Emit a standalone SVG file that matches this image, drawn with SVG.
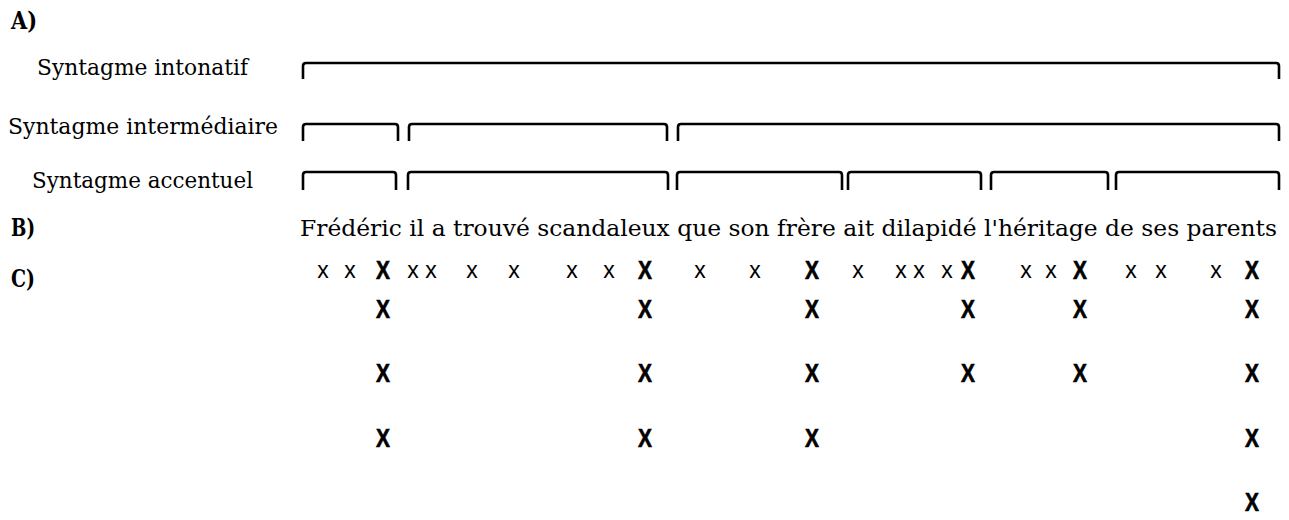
<svg xmlns="http://www.w3.org/2000/svg" width="1289" height="520" viewBox="0 0 1289 520">
<style>
.lbl{font-family:"DejaVu Serif","Liberation Serif",serif;font-size:23px;fill:#000}
.sec{font-family:"DejaVu Serif","Liberation Serif",serif;font-size:24px;font-weight:bold;fill:#000}
.br{fill:none;stroke:#000;stroke-width:2.6;stroke-linejoin:round}
.sx{font-family:"Liberation Sans",Arial,sans-serif;font-size:23px;fill:#000;text-anchor:middle}
.bx{font-family:"Liberation Sans",Arial,sans-serif;font-size:25px;font-weight:bold;fill:#000;text-anchor:middle;stroke:#000;stroke-width:0.6}
</style>
<rect width="1289" height="520" fill="#fff"/>
<g id="sections">
<text class="sec" x="11" y="29" textLength="26" lengthAdjust="spacingAndGlyphs">A)</text>
<text class="sec" x="11" y="236" textLength="24" lengthAdjust="spacingAndGlyphs">B)</text>
<text class="sec" x="11" y="287" textLength="24" lengthAdjust="spacingAndGlyphs">C)</text>
</g>
<g id="labels">
<text class="lbl" x="37" y="75" textLength="211" lengthAdjust="spacingAndGlyphs">Syntagme intonatif</text>
<text class="lbl" x="8" y="134" textLength="270" lengthAdjust="spacingAndGlyphs">Syntagme intermédiaire</text>
<text class="lbl" x="32" y="188" textLength="221" lengthAdjust="spacingAndGlyphs">Syntagme accentuel</text>
</g>
<g id="brackets-intonatif">
<path class="br" d="M303,79 V66 Q303,63 306,63 H1276 Q1279,63 1279,66 V79"/>
</g>
<g id="brackets-intermediaire">
<path class="br" d="M303,141 V127 Q303,124 306,124 H395 Q398,124 398,127 V141"/>
<path class="br" d="M409,141 V127 Q409,124 412,124 H664 Q667,124 667,127 V141"/>
<path class="br" d="M678,141 V127 Q678,124 681,124 H1276 Q1279,124 1279,127 V141"/>
</g>
<g id="brackets-accentuel">
<path class="br" d="M303,190 V175 Q303,172 306,172 H393 Q396,172 396,175 V190"/>
<path class="br" d="M408,190 V175 Q408,172 411,172 H665 Q668,172 668,175 V190"/>
<path class="br" d="M677,190 V175 Q677,172 680,172 H839 Q842,172 842,175 V190"/>
<path class="br" d="M848,190 V175 Q848,172 851,172 H978 Q981,172 981,175 V190"/>
<path class="br" d="M991,190 V175 Q991,172 994,172 H1105 Q1108,172 1108,175 V190"/>
<path class="br" d="M1116,190 V175 Q1116,172 1119,172 H1276 Q1279,172 1279,175 V190"/>
</g>
<g id="sentence">
<text class="lbl" x="300" y="236" textLength="977" lengthAdjust="spacingAndGlyphs">Frédéric il a trouvé scandaleux que son frère ait dilapidé l'héritage de ses parents</text>
</g>
<g id="grid-row1">
<text class="sx" x="323" y="278">x</text>
<text class="sx" x="350" y="278">x</text>
<text class="bx" x="383" y="279" textLength="14" lengthAdjust="spacingAndGlyphs">X</text>
<text class="sx" x="413" y="278">x</text>
<text class="sx" x="431" y="278">x</text>
<text class="sx" x="472" y="278">x</text>
<text class="sx" x="514" y="278">x</text>
<text class="sx" x="572" y="278">x</text>
<text class="sx" x="609" y="278">x</text>
<text class="bx" x="645" y="279" textLength="14" lengthAdjust="spacingAndGlyphs">X</text>
<text class="sx" x="700" y="278">x</text>
<text class="sx" x="755" y="278">x</text>
<text class="bx" x="812" y="279" textLength="14" lengthAdjust="spacingAndGlyphs">X</text>
<text class="sx" x="858" y="278">x</text>
<text class="sx" x="901" y="278">x</text>
<text class="sx" x="919" y="278">x</text>
<text class="sx" x="947" y="278">x</text>
<text class="bx" x="968" y="279" textLength="14" lengthAdjust="spacingAndGlyphs">X</text>
<text class="sx" x="1026" y="278">x</text>
<text class="sx" x="1051" y="278">x</text>
<text class="bx" x="1080" y="279" textLength="14" lengthAdjust="spacingAndGlyphs">X</text>
<text class="sx" x="1131" y="278">x</text>
<text class="sx" x="1161" y="278">x</text>
<text class="sx" x="1216" y="278">x</text>
<text class="bx" x="1252" y="279" textLength="14" lengthAdjust="spacingAndGlyphs">X</text>
</g>
<g id="grid-row2">
<text class="bx" x="383" y="318" textLength="14" lengthAdjust="spacingAndGlyphs">X</text>
<text class="bx" x="645" y="318" textLength="14" lengthAdjust="spacingAndGlyphs">X</text>
<text class="bx" x="812" y="318" textLength="14" lengthAdjust="spacingAndGlyphs">X</text>
<text class="bx" x="968" y="318" textLength="14" lengthAdjust="spacingAndGlyphs">X</text>
<text class="bx" x="1080" y="318" textLength="14" lengthAdjust="spacingAndGlyphs">X</text>
<text class="bx" x="1252" y="318" textLength="14" lengthAdjust="spacingAndGlyphs">X</text>
</g>
<g id="grid-row3">
<text class="bx" x="383" y="382" textLength="14" lengthAdjust="spacingAndGlyphs">X</text>
<text class="bx" x="645" y="382" textLength="14" lengthAdjust="spacingAndGlyphs">X</text>
<text class="bx" x="812" y="382" textLength="14" lengthAdjust="spacingAndGlyphs">X</text>
<text class="bx" x="968" y="382" textLength="14" lengthAdjust="spacingAndGlyphs">X</text>
<text class="bx" x="1080" y="382" textLength="14" lengthAdjust="spacingAndGlyphs">X</text>
<text class="bx" x="1252" y="382" textLength="14" lengthAdjust="spacingAndGlyphs">X</text>
</g>
<g id="grid-row4">
<text class="bx" x="383" y="447" textLength="14" lengthAdjust="spacingAndGlyphs">X</text>
<text class="bx" x="645" y="447" textLength="14" lengthAdjust="spacingAndGlyphs">X</text>
<text class="bx" x="812" y="447" textLength="14" lengthAdjust="spacingAndGlyphs">X</text>
<text class="bx" x="1252" y="447" textLength="14" lengthAdjust="spacingAndGlyphs">X</text>
</g>
<g id="grid-row5">
<text class="bx" x="1252" y="511" textLength="14" lengthAdjust="spacingAndGlyphs">X</text>
</g>
</svg>
